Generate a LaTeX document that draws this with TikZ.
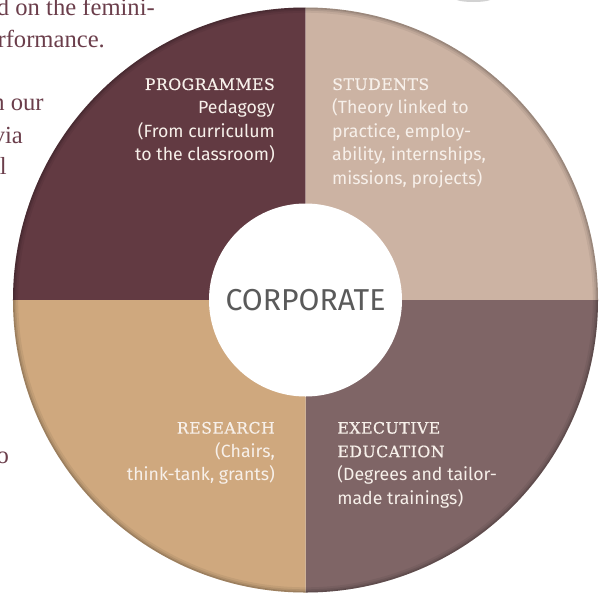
\documentclass[tikz,border=0pt]{standalone}
\usepackage{fontspec}
\setmainfont{Liberation Serif}
\setsansfont{Fira Sans}
\newfontfamily\capsfont[LetterSpace=3, FakeBold=0.5]{DejaVu Serif}

\definecolor{progcol}{HTML}{623A42}
\definecolor{studcol}{HTML}{CCB3A3}
\definecolor{rescol}{HTML}{CFA87E}
\definecolor{execcol}{HTML}{7F6566}
\definecolor{bodycol}{HTML}{6B3E4B}
\definecolor{cream}{HTML}{F7F0EA}
\definecolor{corpgrey}{HTML}{5A5A5A}

\newcommand{\hd}[1]{{\capsfont\fontsize{11.2}{16.8}\selectfont #1}}

\begin{document}
\begin{tikzpicture}[
    quarter/.style={line width=0pt},
    txt/.style={inner sep=0pt, align=#1, text=cream,
        font=\sffamily\fontsize{12.6}{16.8}\selectfont},
    body/.style={inner sep=0pt, anchor=base east, text=bodycol,
        font=\fontsize{17.5}{22}\selectfont},
]
\def\R{7.3125}
\useasboundingbox (-7.6375,-7.3) rectangle (7.4125,7.5);
\clip (-7.6375,-7.3) rectangle (7.4125,7.5);

% ---------- running text beside the wheel ----------
\node[body] (ln1) at (-3.76, 7.125) {d on the femini-};
\node[body] (ln2) at (-5.01, 6.325) {rformance.};
\node[body] (ln3) at (-6.54, 4.75)  {n our};
\node[body] (ln4) at (-7.06, 3.925) {via};
\node[body] (ln5) at (-7.46, 3.15)  {l};
\node[body] (ln6) at (-7.41, -4.075) {o};
\fill[gray!35] (4.2, 7.53) ellipse (0.45 and 0.08);

% ---------- four quarters ----------
\fill[progcol, quarter] (0,0) -- (-\R,0) arc[start angle=180, end angle=90, radius=\R] -- cycle;
\fill[studcol, quarter] (0,0) -- (0,\R) arc[start angle=90, end angle=0, radius=\R] -- cycle;
\fill[execcol, quarter] (0,0) -- (\R,0) arc[start angle=0, end angle=-90, radius=\R] -- cycle;
\fill[rescol, quarter] (0,0) -- (0,-\R) arc[start angle=-90, end angle=-180, radius=\R] -- cycle;

% soft dark rim
\begin{scope}
  \clip (0,0) circle (\R);
  \foreach \w/\o in {0.26/0.06, 0.16/0.08, 0.08/0.12}
    \draw[black, opacity=\o, line width=\w cm] (0,0) circle (\R);
\end{scope}

% ---------- hub ----------
\node[circle, fill=white, minimum size=4.825cm, inner sep=0pt, text=corpgrey,
      font=\sffamily\fontsize{21.5}{24}\selectfont] (corp) at (0,0) {CORPORATE};

% ---------- quarter labels ----------
\node[txt=right, anchor=north east] (prog) at (-0.76, 5.55)
  {\hd{PROGRAMMES}\\Pedagogy\\(From curriculum\\to the classroom)};
\node[txt=left, anchor=north west] (stud) at (0.66, 5.55)
  {\hd{STUDENTS}\\(Theory linked to\\practice, employ-\\ability, internships,\\missions, projects)};
\node[txt=right, anchor=north east] (res) at (-0.76, -3.04)
  {\hd{RESEARCH}\\(Chairs,\\think-tank, grants)};
\node[txt=left, anchor=north west] (exec) at (0.79, -3.04)
  {\hd{EXECUTIVE}\\\hd{EDUCATION}\\(Degrees and tailor-\\made trainings)};
\end{tikzpicture}
\end{document}
